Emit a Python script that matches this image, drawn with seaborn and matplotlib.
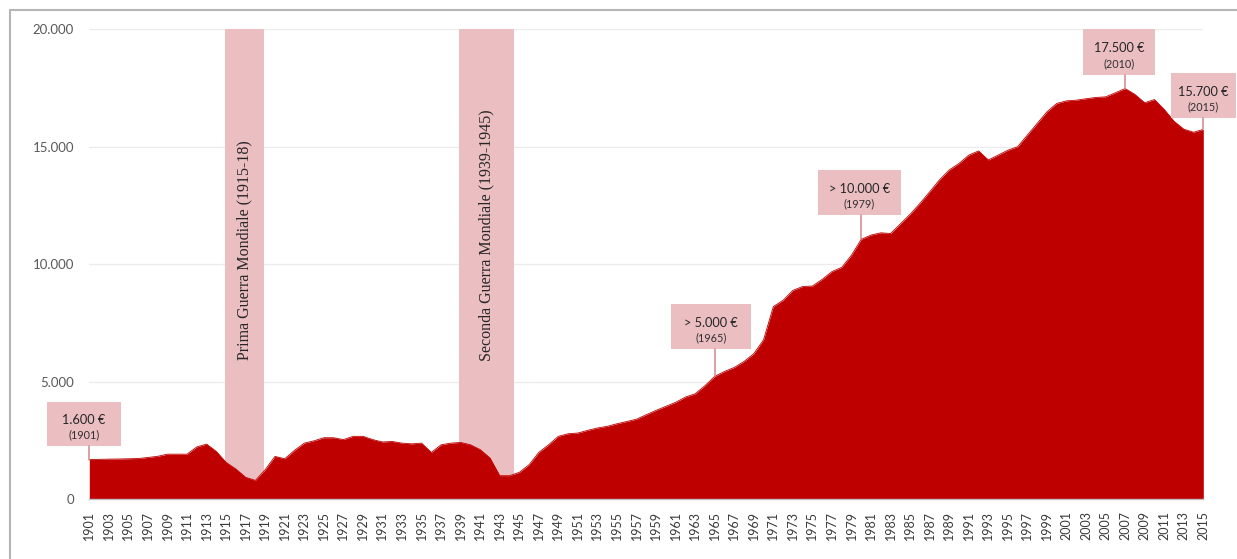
import matplotlib
matplotlib.use("Agg")
import matplotlib.pyplot as plt
from matplotlib.patches import Rectangle
from matplotlib.lines import Line2D
import seaborn as sns

# ---------------- data ----------------
years = list(range(1901, 2016))
income = [
    1690, 1700, 1710, 1715, 1725, 1735, 1780, 1830, 1920, 1920,   # 1901-1910
    1920, 2230, 2350, 2035, 1570, 1290, 935, 805, 1260, 1825,     # 1911-1920
    1725, 2085, 2390, 2490, 2620, 2620, 2540, 2680, 2680, 2540,   # 1921-1930
    2440, 2460, 2390, 2360, 2390, 1995, 2320, 2390, 2420, 2320,   # 1931-1940
    2115, 1760, 1005, 1005, 1145, 1470, 1995, 2320, 2680, 2790,   # 1941-1950
    2820, 2935, 3035, 3105, 3215, 3310, 3410, 3600, 3785, 3955,   # 1951-1960
    4125, 4350, 4490, 4835, 5230, 5440, 5610, 5865, 6195, 6790,   # 1961-1970
    8200, 8470, 8890, 9055, 9075, 9360, 9690, 9870, 10390, 11065, # 1971-1980
    11245, 11340, 11310, 11720, 12130, 12590, 13085, 13590, 14015, 14290,  # 1981-1990
    14645, 14825, 14440, 14645, 14855, 15005, 15500, 15995, 16490, 16845,  # 1991-2000
    16955, 16985, 17045, 17100, 17125, 17300, 17480, 17230, 16875, 17010,  # 2001-2010
    16590, 16090, 15750, 15620, 15740,                                      # 2011-2015
]

ytick_values = [0, 5000, 10000, 15000, 20000]
ytick_labels = ["0", "5.000", "10.000", "15.000", "20.000"]

war_labels = ["Prima Guerra Mondiale (1915-18)", "Seconda Guerra Mondiale (1939-1945)"]
war_starts = [1914.9, 1938.8]
war_ends = [1918.9, 1944.5]

ann_years = [1901, 1965, 1980, 2007, 2015]
ann_values = ["1.600 €", "> 5.000 €", "> 10.000 €", "17.500 €", "15.700 €"]
ann_sublabels = ["(1901)", "(1965)", "(1979)", "(2010)", "(2015)"]

# ---------------- layout (not data) ----------------
ann_box_x = [(1896.7, 1904.2), (1960.5, 1968.7), (1975.6, 1984.05), (2002.7, 2010.1), (2011.7, 2018.3)]
ann_box_y = [(2270, 4140), (6380, 8310), (12100, 14010), (18060, 20000), (16210, 18150)]
war_text_y = [10610, 11250]

RED = "#bf0000"
PINK = "#ebbec1"
CONNECT = "#d4868c"
TXT = "#3a3a3a"

sns.set_style("white")
plt.rcParams["font.family"] = ["Lato", "DejaVu Sans"]

W, H = 1237, 559
fig = plt.figure(figsize=(W / 100, H / 100), dpi=100)
ax = fig.add_axes([89.3 / W, 1 - 499.3 / H, (1203.3 - 89.3) / W, (499.3 - 29.3) / H])

# war bands
for lab, s, e, ty in zip(war_labels, war_starts, war_ends, war_text_y):
    ax.axvspan(s, e, color=PINK, lw=0, zorder=1)
    ax.text((s + e) / 2, ty, lab, rotation=90, ha="center", va="center",
            family="Liberation Serif", fontsize=11.5, color="#262626", zorder=4)

# area
ax.fill_between(years, income, 0, color=RED, lw=0, zorder=3)
sns.lineplot(x=years, y=income, ax=ax, color=RED, lw=0.6, zorder=3)

ax.set_xlim(1901, 2015)
ax.set_ylim(0, 20000)

# grid & spines
ax.set_axisbelow(True)
ax.yaxis.grid(True, color="#ebebeb", lw=0.9)
ax.xaxis.grid(False)
for side in ["top", "right", "left"]:
    ax.spines[side].set_visible(False)
ax.spines["bottom"].set_color("#bfbfbf")
ax.spines["bottom"].set_linewidth(1.0)
ax.spines["bottom"].set_zorder(5)

ax.set_xticks(years)
ax.set_xticklabels([str(y) if (y - 1901) % 2 == 0 else "" for y in years], rotation=90)
ax.tick_params(axis="x", direction="out", length=5.5, width=1, color="#bfbfbf",
               pad=3, labelsize=9, labelcolor=TXT)
ax.set_yticks(ytick_values)
ax.set_yticklabels(ytick_labels)
ax.tick_params(axis="y", length=0, pad=11, labelsize=9.5, labelcolor="#595959")
ax.set_xlabel("")
ax.set_ylabel("")

# annotations
lookup = dict(zip(years, income))
for yr, val, sub, bx, by in zip(ann_years, ann_values, ann_sublabels, ann_box_x, ann_box_y):
    x0, x1 = bx
    y0, y1 = by
    ax.add_patch(Rectangle((x0, y0), x1 - x0, y1 - y0, facecolor=PINK, edgecolor="none",
                           zorder=6, clip_on=False))
    ax.plot([yr, yr], [lookup[yr], y0], color=CONNECT, lw=1.1, zorder=6, clip_on=False)
    ax.text((x0 + x1) / 2, y1 - 0.42 * (y1 - y0), val, ha="center", va="center",
            fontsize=9.2, color="#262626", zorder=7, clip_on=False)
    ax.text((x0 + x1) / 2, y1 - 0.755 * (y1 - y0), sub, ha="center", va="center",
            fontsize=7.8, color="#303030", zorder=7, clip_on=False)

# outer frame (left and top edges visible)
fig.add_artist(Line2D([10 / W, 10 / W], [0, 1 - 10 / H], transform=fig.transFigure,
                      color="#b5b5b5", lw=1.5))
fig.add_artist(Line2D([10 / W, 1], [1 - 10 / H, 1 - 10 / H], transform=fig.transFigure,
                      color="#b5b5b5", lw=1.5))

fig.savefig("out.png", dpi=100)
